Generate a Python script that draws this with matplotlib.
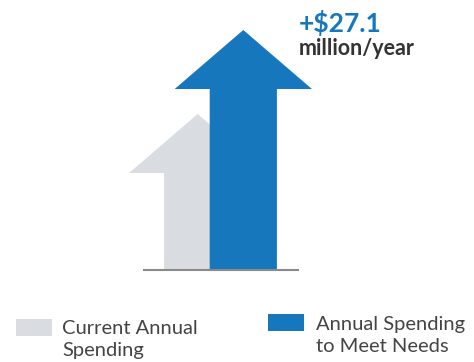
import matplotlib.pyplot as plt
from matplotlib.patches import Polygon, Rectangle

# data
labels = ['Current Annual\nSpending', 'Annual Spending\nto Meet Needs']
heights = [155.5, 239.5]          # arrow heights (relative units)
colors = ['#D9DCE1', '#1777BC']
centers = [197.7, 243.3]
gap_text = '+$27.1'
gap_unit = 'million/year'

plt.rcParams['font.family'] = ['Lato', 'DejaVu Sans']

fig = plt.figure(figsize=(4.74, 3.62), dpi=100)
ax = fig.add_axes([0, 0, 1, 1])
ax.set_xlim(0, 474)
ax.set_ylim(0, 362)
ax.axis('off')

base = 92.5
head_len = 59
head_half = 68.6
shaft_half = 33.6

for cx, h, c in zip(centers, heights, colors):
    top = base + h
    neck = top - head_len
    pts = [(cx - shaft_half, base), (cx - shaft_half, neck), (cx - head_half, neck),
           (cx, top), (cx + head_half, neck), (cx + shaft_half, neck),
           (cx + shaft_half, base)]
    ax.add_patch(Polygon(pts, closed=True, facecolor=c, edgecolor='none'))

ax.plot([143, 299], [base, base], color='#8a8a8a', lw=1.5, solid_capstyle='butt')

ax.text(299, 330, gap_text, color='#1777BC', fontsize=19, fontweight='bold',
        ha='left', va='baseline')
ax.text(299, 307, gap_unit, color='#333333', fontsize=15.5, fontweight='bold',
        ha='left', va='baseline')

# legend
legend_pos = [(16, 26.3, 62, 27.7), (268, 31.3, 316, 32)]   # patch x, patch y, text x, first baseline
for (px, py, tx, ty), lab, c in zip(legend_pos, labels, colors):
    ax.add_patch(Rectangle((px, py), 36.5, 16.5, facecolor=c, edgecolor='none'))
    for i, line in enumerate(lab.split('\n')):
        ax.text(tx, ty - 21.5 * i, line, color='#444444', fontsize=14.5,
                ha='left', va='baseline')

fig.savefig('out.png', dpi=100)
